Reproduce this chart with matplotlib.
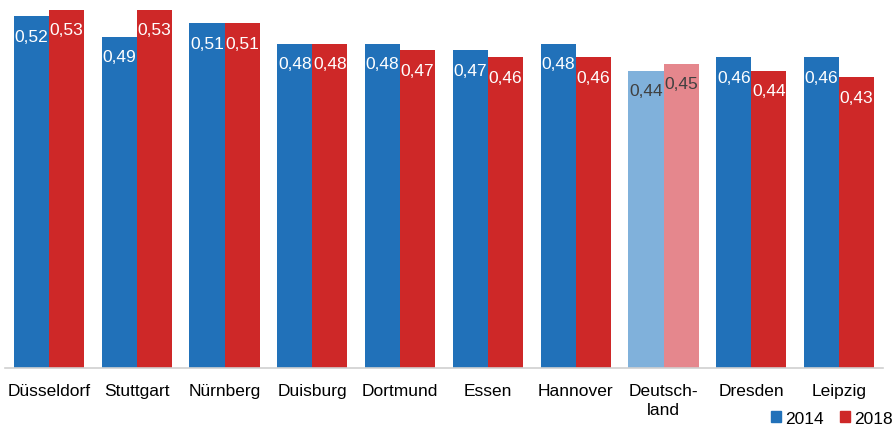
import numpy as np
import matplotlib
matplotlib.use("Agg")
import matplotlib.pyplot as plt
from matplotlib.patches import Patch

plt.rcParams['font.family'] = ['Liberation Sans', 'DejaVu Sans']

cities = ["Düsseldorf", "Stuttgart", "Nürnberg", "Duisburg", "Dortmund",
          "Essen", "Hannover", "Deutsch-\nland", "Dresden", "Leipzig"]
vals_2014 = [0.52, 0.49, 0.51, 0.48, 0.48, 0.47, 0.48, 0.44, 0.46, 0.46]
vals_2018 = [0.53, 0.53, 0.51, 0.48, 0.47, 0.46, 0.46, 0.45, 0.44, 0.43]
years = ["2014", "2018"]

blue = "#2171b9"
red = "#ce2828"
blue_light = "#80b1db"
red_light = "#e5878d"
highlight = 7  # Deutschland as reference group

fig = plt.figure(figsize=(8.93, 4.27), dpi=100)
ax = fig.add_axes([5 / 893, 1 - 369 / 427, 878 / 893, (369 - 10.7) / 427])

x = np.arange(len(cities))
w = 0.4
c14 = [blue_light if i == highlight else blue for i in x]
c18 = [red_light if i == highlight else red for i in x]
b1 = ax.bar(x - w / 2, vals_2014, w, color=c14)
b2 = ax.bar(x + w / 2, vals_2018, w, color=c18)

for bars, vals in ((b1, vals_2014), (b2, vals_2018)):
    for i, (b, v) in enumerate(zip(bars, vals)):
        col = "#404040" if i == highlight else "white"
        ax.annotate(("%.2f" % v).replace(".", ","),
                    (b.get_x() + b.get_width() / 2, v),
                    xytext=(0, -20), textcoords="offset pixels",
                    ha="center", va="center", fontsize=12.5, color=col)

ax.set_xlim(-0.5, len(cities) - 0.5)
ax.set_ylim(0, 0.53)
ax.set_yticks([])
ax.set_xticks(x)
ax.set_xticklabels(cities, fontsize=12.5, linespacing=1.3)
ax.tick_params(axis="x", length=0, pad=11)
for s in ["top", "right", "left"]:
    ax.spines[s].set_visible(False)
ax.spines["bottom"].set_color("#d0d0d0")
ax.spines["bottom"].set_linewidth(1.2)

handles = [Patch(color=blue), Patch(color=red)]
fig.legend(handles, years, loc="lower right", bbox_to_anchor=(1.0, 0.0),
           ncol=2, frameon=False, fontsize=12.5, handlelength=0.6,
           handleheight=0.6, handletextpad=0.25, columnspacing=0.9,
           borderpad=0, borderaxespad=0)

fig.savefig("out.png", dpi=100)
